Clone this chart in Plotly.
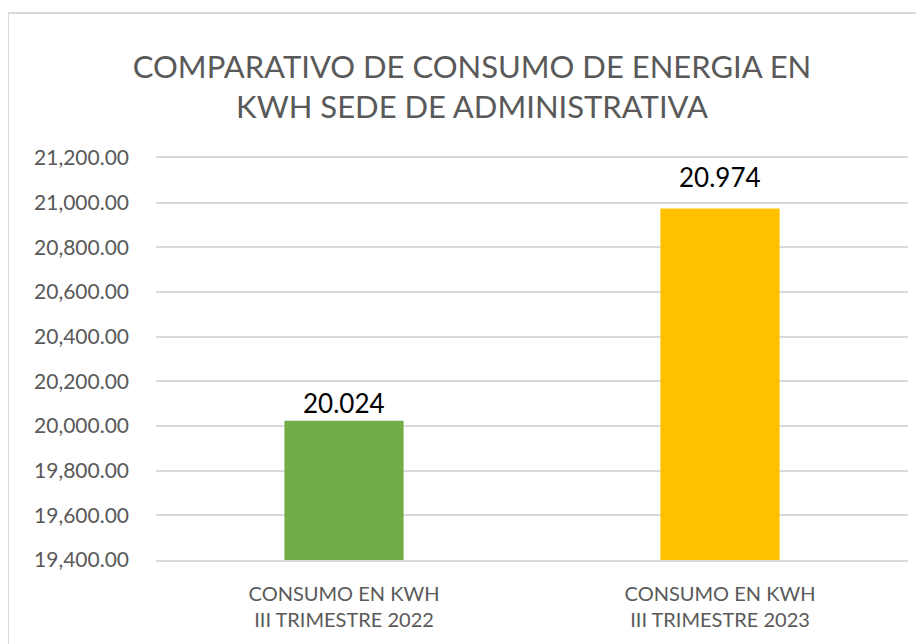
import plotly.graph_objects as go

categories = ["CONSUMO EN KWH<br>III TRIMESTRE 2022", "CONSUMO EN KWH<br>III TRIMESTRE 2023"]
values = [20024, 20974]
colors = ["#70AD47", "#FFC000"]
labels = [f"{v:,.0f}".replace(",", ".") for v in values]
title_text = "COMPARATIVO DE CONSUMO DE ENERGIA EN<br>KWH SEDE DE ADMINISTRATIVA"
y_range = [19400, 21200]
y_dtick = 200

# label offsets (px above bar top, to label centre)
label_shift = [17.5, 31.5]

FONT = "Lato, 'Open Sans', sans-serif"

fig = go.Figure()
fig.add_trace(go.Bar(
    x=categories, y=values, marker=dict(color=colors, line=dict(width=0)),
    width=0.317, hoverinfo="skip",
))

for c, v, t, s in zip(categories, values, labels, label_shift):
    fig.add_annotation(x=c, y=v, text=t, showarrow=False, yanchor="middle",
                       yshift=s, font=dict(family=FONT, size=26, color="#000000"))

# page is rendered with an 8px body offset; coordinates below compensate
OFF = 8
W, H = 924, 644
L, R, T, B = 156 - OFF, 16 + OFF, 158 - OFF, 84 + OFF
pw, ph = W - L - R, H - T - B

def px(x):
    return (x - OFF - L) / pw

def py(y):
    return (H - B - (y - OFF)) / ph

fig.add_shape(type="rect", xref="paper", yref="paper",
              x0=px(8), x1=px(940), y0=py(13), y1=py(670),
              line=dict(color="#D9D9D9", width=2), fillcolor="rgba(0,0,0,0)", layer="below")

fig.update_layout(
    width=W, height=H,
    margin=dict(l=L, r=R, t=T, b=B),
    paper_bgcolor="white", plot_bgcolor="white",
    showlegend=False,
    font=dict(family=FONT, color="#595959"),
    title=dict(text=title_text, x=px(472), xref="paper", xanchor="center",
               y=1 - (78 - OFF) / H, yref="container", yanchor="middle",
               font=dict(family=FONT, size=31, color="#595959")),
)
fig.update_yaxes(range=y_range, dtick=y_dtick, tick0=y_range[0], tickformat=",.2f",
                 showgrid=True, gridcolor="#D9D9D9", gridwidth=1.5,
                 zeroline=False, showline=False, ticks="",
                 ticklabelstandoff=26,
                 tickfont=dict(family=FONT, size=21, color="#595959"))
fig.update_xaxes(showline=True, mirror=True, linecolor="#D9D9D9", linewidth=1.5, ticks="",
                 ticklabelstandoff=15,
                 tickfont=dict(family=FONT, size=20, color="#595959"))

fig.write_html("out.html")
